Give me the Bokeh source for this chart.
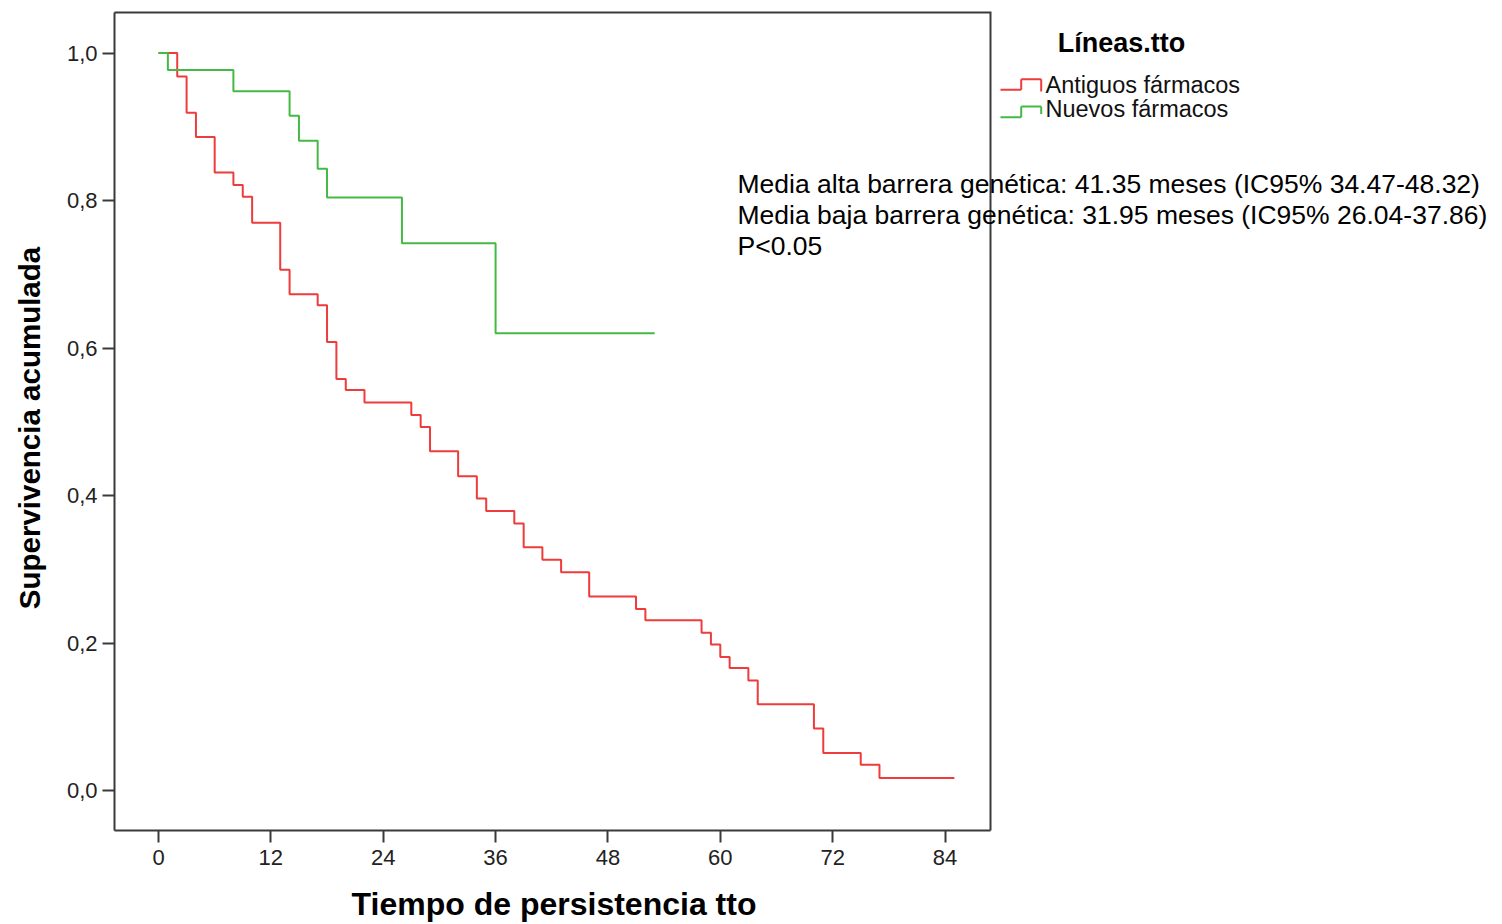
import math
from bokeh.plotting import figure
from bokeh.models import Range1d, FixedTicker, CustomJSTickFormatter, Label, Arrow
from bokeh.embed import file_html
from bokeh.resources import INLINE

# ---- data ----
antiguos_t = [0, 2, 3, 4, 6, 8, 9, 10, 13, 14, 17, 18, 19, 20, 22, 27, 28, 29, 32, 34,
              35, 38, 39, 41, 43, 46, 51, 52, 58, 59, 60, 61, 63, 64, 70, 71, 75, 77, 85]
antiguos_s = [1.0, 0.968, 0.919, 0.886, 0.838, 0.821, 0.805, 0.770, 0.706, 0.673,
              0.658, 0.608, 0.558, 0.543, 0.526, 0.509, 0.493, 0.460, 0.426, 0.396,
              0.379, 0.362, 0.330, 0.313, 0.296, 0.263, 0.246, 0.231, 0.214, 0.198,
              0.181, 0.166, 0.149, 0.117, 0.084, 0.051, 0.035, 0.017, 0.017]
nuevos_t = [0, 1, 8, 14, 15, 17, 18, 26, 36, 53]
nuevos_s = [1.0, 0.977, 0.948, 0.915, 0.881, 0.843, 0.804, 0.742, 0.620, 0.620]
x_ticks = [0, 12, 24, 36, 48, 60, 72, 84]
y_ticks = [0.0, 0.2, 0.4, 0.6, 0.8, 1.0]
series_names = ["Antiguos fármacos", "Nuevos fármacos"]
legend_title = "Líneas.tto"
x_title = "Tiempo de persistencia tto"
y_title = "Supervivencia acumulada"
note_lines = ["Media alta barrera genética: 41.35 meses (IC95% 34.47-48.32)",
              "Media baja barrera genética: 31.95 meses (IC95% 26.04-37.86)",
              "P<0.05"]

RED = "#ee3b3b"
GREEN = "#44b944"
FRAME = "#3a3a3a"
FONT = "Liberation Sans"

W, H = 1500, 924
BOX_L, BOX_R, BOX_T, BOX_B = 114, 990, 12, 830   # visible plot box in page pixels

# page-pixel -> data helpers (reference x: 0->158px, 84->944.5px; y: 1->52.5px, 0->790px)
def px(xp):
    return (xp - 158.0) / ((944.5 - 158.0) / 84.0)

def py(yp):
    return (790.0 - yp) / (790.0 - 52.5)

BASE_K = 0.385   # offset (in em) between requested y and rendered alphabetic baseline

# the frame covers the whole canvas so that nothing is clipped; axes are pinned to the box
p = figure(width=W, height=H,
           x_range=Range1d(px(0), px(W)), y_range=Range1d(py(H), py(0)),
           output_backend="svg", toolbar_location=None,
           min_border_left=0, min_border_right=0, min_border_top=0, min_border_bottom=0)

p.grid.visible = False
p.outline_line_color = None
p.background_fill_color = "white"
p.border_fill_color = "white"

p.xaxis.ticker = FixedTicker(ticks=x_ticks)
p.yaxis.ticker = FixedTicker(ticks=y_ticks)
p.yaxis.formatter = CustomJSTickFormatter(code="return tick.toFixed(1).replace('.', ',');")
p.xaxis.fixed_location = py(BOX_B)
p.yaxis.fixed_location = px(BOX_L)
p.xaxis.bounds = (px(BOX_L), px(BOX_R))
p.yaxis.bounds = (py(BOX_B), py(BOX_T))
for ax in (p.xaxis[0], p.yaxis[0]):
    ax.axis_line_color = FRAME
    ax.axis_line_width = 2
    ax.major_tick_line_color = FRAME
    ax.major_tick_line_width = 2
    ax.major_tick_out = 12
    ax.major_tick_in = 0
    ax.minor_tick_line_color = None
    ax.major_label_text_font = FONT
    ax.major_label_text_font_size = "22px"
    ax.major_label_text_color = "#222222"
p.xaxis.major_label_standoff = 7
p.yaxis.major_label_standoff = 5

# top and right edges of the plot box (left/bottom are the axis lines)
p.line([px(BOX_L), px(BOX_R), px(BOX_R)], [py(BOX_T), py(BOX_T), py(BOX_B)],
       line_color=FRAME, line_width=2, line_join="miter")

p.step(antiguos_t, antiguos_s, mode="after", line_color=RED, line_width=2)
p.step(nuevos_t, nuevos_s, mode="after", line_color=GREEN, line_width=2)

def add_text(text, xp, yp_base, size, bold=False, align="left", color="black"):
    p.add_layout(Label(x=px(xp), y=py(yp_base - BASE_K * size), text=text, text_align=align,
                       text_baseline="alphabetic", text_font=FONT, text_font_size=f"{size}px",
                       text_font_style="bold" if bold else "normal", text_color=color))

# axis titles
add_text(x_title, 553.5, 916, 32, bold=True, align="center")
p.add_layout(Label(x=px(40.5 - BASE_K * 29.5), y=py(427.5), text=y_title, angle=math.pi / 2,
                   text_align="center", text_baseline="alphabetic", text_font=FONT,
                   text_font_size="29.5px", text_font_style="bold", text_color="black"))

# legend title
add_text(legend_title, 1121, 52.7, 27, bold=True, align="center")

# legend items with step-shaped icons
item_rows = [(RED, 89.3, 78.7, 91.0, 94.0), (GREEN, 116.7, 106.0, 113.5, 117.3)]
for (col, ylow, ytop, yend, ybase), name in zip(item_rows, series_names):
    segs = [((1000, ylow), (1020.7, ylow)), ((1020.7, ylow), (1020.7, ytop)),
            ((1020.7, ytop), (1040.7, ytop)), ((1040.7, ytop), (1040.7, yend))]
    for (xa, ya), (xb, yb) in segs:
        p.add_layout(Arrow(end=None, x_start=px(xa), y_start=py(ya), x_end=px(xb), y_end=py(yb),
                           line_color=col, line_width=2))
    add_text(name, 1045, ybase, 23.5, color="#111111")

# annotation text
for i, line in enumerate(note_lines):
    add_text(line, 737, 193.3 + 31 * i, 26.5)

open("out.html", "w").write(file_html(p, INLINE))
